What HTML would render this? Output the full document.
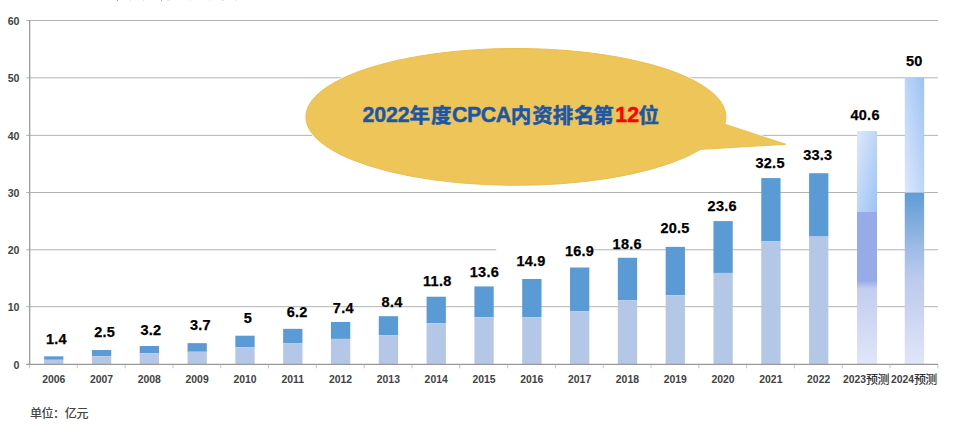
<!DOCTYPE html>
<html lang="zh-CN">
<head>
<meta charset="utf-8">
<title>营收增长图表</title>
<style>
html,body{margin:0;padding:0;background:#fff;}
body{width:957px;height:424px;overflow:hidden;position:relative;font-family:"Liberation Sans",sans-serif;}
.chart{position:absolute;left:0;top:0;width:957px;height:424px;overflow:hidden;background:#fff;}
.gfx{position:absolute;left:0;top:0;display:block;}
.chart div{position:absolute;white-space:nowrap;font-family:"Liberation Sans",sans-serif;font-weight:bold;text-align:center;}
.ax{font-size:10.6px;line-height:12px;color:#424242;}
.yl{text-align:right !important;}
.xl{font-size:10.4px;}
.dl{font-size:14.5px;line-height:16px;color:#000;letter-spacing:0.25px;-webkit-text-stroke:0.25px #000;}
.bb{font-size:21.4px;line-height:24px;color:#1b57a6;text-align:left !important;-webkit-text-stroke:0.45px #1b57a6;}
.sp{letter-spacing:-0.4px;}
.tn{letter-spacing:-0.2px;}
.red{color:#ff0000;-webkit-text-stroke-color:#ff0000;}
</style>
</head>
<body>
<div class="chart">
<svg class="gfx" width="957" height="424" viewBox="0 0 957 424">
<defs><linearGradient id="gTop24" x1="0" y1="1" x2="1" y2="0"><stop offset="0" stop-color="#dde8fa"/><stop offset="1" stop-color="#9cc2f5"/></linearGradient><linearGradient id="gTop23" x1="0" y1="0" x2="1" y2="1"><stop offset="0" stop-color="#dde8fa"/><stop offset="1" stop-color="#9cc2f5"/></linearGradient><linearGradient id="gLow23" x1="0" y1="0" x2="0" y2="1"><stop offset="0" stop-color="#98abe9"/><stop offset="0.452" stop-color="#98abe9"/><stop offset="0.505" stop-color="#c2cdf0"/><stop offset="1" stop-color="#e1e5f8"/></linearGradient><linearGradient id="gLow24" x1="0" y1="0" x2="0" y2="1"><stop offset="0" stop-color="#5f9cd6"/><stop offset="0.33" stop-color="#9fbce6"/><stop offset="0.5" stop-color="#bccaee"/><stop offset="0.63" stop-color="#c5d0f0"/><stop offset="1" stop-color="#e1e5f8"/></linearGradient></defs>
<g stroke="#b4b4b4" stroke-width="1" fill="none">
<path d="M26.2 306.70H938.0"/>
<path d="M26.2 249.75H496.2M593.7 249.75H938.0"/>
<path d="M26.2 192.50H938.0"/>
<path d="M26.2 135.40H938.0"/>
<path d="M26.2 77.80H938.0"/>
<path d="M26.2 20.50H938.0"/>
</g>
<g stroke="#c4c4c4" stroke-width="1" fill="none">
<path d="M29.50 364.4v3.9M77.31 364.4v3.9M125.12 364.4v3.9M172.93 364.4v3.9M220.74 364.4v3.9M268.55 364.4v3.9M316.36 364.4v3.9M364.17 364.4v3.9M411.98 364.4v3.9M459.79 364.4v3.9M507.60 364.4v3.9M555.41 364.4v3.9M603.22 364.4v3.9M651.03 364.4v3.9M698.84 364.4v3.9M746.65 364.4v3.9M794.46 364.4v3.9M842.27 364.4v3.9M890.08 364.4v3.9M937.89 364.4v3.9"/>
</g>
<g>
<rect x="44.11" y="356.33" width="19.3" height="3.44" fill="#5b9bd5"/>
<rect x="44.11" y="359.77" width="19.3" height="4.58" fill="#b4c7e7"/>
<rect x="91.92" y="350.02" width="19.3" height="6.30" fill="#5b9bd5"/>
<rect x="91.92" y="356.33" width="19.3" height="8.02" fill="#b4c7e7"/>
<rect x="139.72" y="346.01" width="19.3" height="7.16" fill="#5b9bd5"/>
<rect x="139.72" y="353.17" width="19.3" height="11.18" fill="#b4c7e7"/>
<rect x="187.53" y="343.15" width="19.3" height="8.60" fill="#5b9bd5"/>
<rect x="187.53" y="351.74" width="19.3" height="12.61" fill="#b4c7e7"/>
<rect x="235.34" y="335.70" width="19.3" height="11.46" fill="#5b9bd5"/>
<rect x="235.34" y="347.16" width="19.3" height="17.19" fill="#b4c7e7"/>
<rect x="283.16" y="328.82" width="19.3" height="14.61" fill="#5b9bd5"/>
<rect x="283.16" y="343.43" width="19.3" height="20.92" fill="#b4c7e7"/>
<rect x="330.96" y="321.94" width="19.3" height="16.96" fill="#5b9bd5"/>
<rect x="330.96" y="338.90" width="19.3" height="25.45" fill="#b4c7e7"/>
<rect x="378.78" y="316.21" width="19.3" height="19.14" fill="#5b9bd5"/>
<rect x="378.78" y="335.35" width="19.3" height="29.00" fill="#b4c7e7"/>
<rect x="426.58" y="296.72" width="19.3" height="26.59" fill="#5b9bd5"/>
<rect x="426.58" y="323.32" width="19.3" height="41.03" fill="#b4c7e7"/>
<rect x="474.40" y="286.41" width="19.3" height="30.95" fill="#5b9bd5"/>
<rect x="474.40" y="317.36" width="19.3" height="46.99" fill="#b4c7e7"/>
<rect x="522.21" y="278.96" width="19.3" height="38.40" fill="#5b9bd5"/>
<rect x="522.21" y="317.36" width="19.3" height="46.99" fill="#b4c7e7"/>
<rect x="570.02" y="267.50" width="19.3" height="43.84" fill="#5b9bd5"/>
<rect x="570.02" y="311.34" width="19.3" height="53.01" fill="#b4c7e7"/>
<rect x="617.83" y="257.75" width="19.3" height="42.64" fill="#5b9bd5"/>
<rect x="617.83" y="300.39" width="19.3" height="63.96" fill="#b4c7e7"/>
<rect x="665.64" y="246.86" width="19.3" height="48.43" fill="#5b9bd5"/>
<rect x="665.64" y="295.29" width="19.3" height="69.06" fill="#b4c7e7"/>
<rect x="713.45" y="221.08" width="19.3" height="51.87" fill="#5b9bd5"/>
<rect x="713.45" y="272.94" width="19.3" height="91.41" fill="#b4c7e7"/>
<rect x="761.26" y="178.09" width="19.3" height="63.04" fill="#5b9bd5"/>
<rect x="761.26" y="241.13" width="19.3" height="123.22" fill="#b4c7e7"/>
<rect x="809.07" y="173.22" width="19.3" height="63.33" fill="#5b9bd5"/>
<rect x="809.07" y="236.55" width="19.3" height="127.80" fill="#b4c7e7"/>
<rect x="857.00" y="131.10" width="20.0" height="80.81" fill="url(#gTop23)"/>
<rect x="857.00" y="211.91" width="20.0" height="152.44" fill="url(#gLow23)"/>
<rect x="904.75" y="77.51" width="19.35" height="115.19" fill="url(#gTop24)"/>
<rect x="904.75" y="192.71" width="19.35" height="171.64" fill="url(#gLow24)"/>
</g>
<path d="M26.2 364.38H938.0" stroke="#999999" stroke-width="1.24" fill="none"/>
<path d="M29.65 20V365" stroke="#9c9c9c" stroke-width="1.3" fill="none"/>
<path d="M724.71 124.17L785.6 144.3L700.75 149.36A210.0 68.4 0 1 1 724.71 124.17Z" fill="none" stroke="#fff" stroke-width="2.4" stroke-linejoin="miter"/>
<path d="M724.71 124.17L785.6 144.3L700.75 149.36A210.0 68.4 0 1 1 724.71 124.17Z" fill="#edc558" stroke="#ebbf4e" stroke-width="1" stroke-linejoin="miter"/>
<g font-family="'Liberation Sans','Noto Sans CJK SC',sans-serif" font-size="20.5" font-weight="bold" fill="#1b57a6" stroke="#1b57a6" stroke-width="0.49">
<text x="409.60 431.00" y="123.45">年度</text>
<text x="510.65 532.20 552.80 574.05 593.35" y="123.45">内资排名第</text>
<text x="638.55" y="123.45">位</text>
</g>
<g font-family="'Liberation Sans','Noto Sans CJK SC',sans-serif" font-size="12" font-weight="500" fill="#333">
<text x="866.10 877.40" y="384.10">预测</text>
<text x="914.00 925.30" y="384.10">预测</text>
</g>
<g font-family="'Liberation Sans','Noto Sans CJK SC',sans-serif" font-size="12" font-weight="500" fill="#444">
<text x="29.90 41.50 53.00 64.80 76.50" y="417.90">单位：亿元</text>
</g>
<g fill="#777"><rect x="117" y="0" width="1" height="0.6"/><rect x="161" y="0" width="1" height="0.6"/><rect x="222.3" y="0" width="1" height="0.4"/></g>
<g fill="#bbb"><rect x="130" y="0" width="1" height="0.4"/><rect x="143" y="0" width="1" height="0.4"/><rect x="167" y="0" width="3" height="0.3"/><rect x="190" y="0" width="1" height="0.4"/><rect x="209" y="0" width="1" height="0.4"/><rect x="236" y="0" width="1" height="0.4"/></g>
</svg>
<div class="ax yl" style="left:-0.50px;top:358.78px;width:20px;">0</div>
<div class="ax yl" style="left:-0.50px;top:301.08px;width:20px;">10</div>
<div class="ax yl" style="left:-0.50px;top:244.13px;width:20px;">20</div>
<div class="ax yl" style="left:-0.50px;top:186.88px;width:20px;">30</div>
<div class="ax yl" style="left:-0.50px;top:129.78px;width:20px;">40</div>
<div class="ax yl" style="left:-0.50px;top:72.18px;width:20px;">50</div>
<div class="ax yl" style="left:-0.50px;top:14.88px;width:20px;">60</div>
<div class="ax xl" style="left:33.70px;top:373.50px;width:40px;">2006</div>
<div class="ax xl" style="left:81.52px;top:373.50px;width:40px;">2007</div>
<div class="ax xl" style="left:129.33px;top:373.50px;width:40px;">2008</div>
<div class="ax xl" style="left:177.14px;top:373.50px;width:40px;">2009</div>
<div class="ax xl" style="left:224.95px;top:373.50px;width:40px;">2010</div>
<div class="ax xl" style="left:272.75px;top:373.50px;width:40px;">2011</div>
<div class="ax xl" style="left:320.56px;top:373.50px;width:40px;">2012</div>
<div class="ax xl" style="left:368.38px;top:373.50px;width:40px;">2013</div>
<div class="ax xl" style="left:416.18px;top:373.50px;width:40px;">2014</div>
<div class="ax xl" style="left:464.00px;top:373.50px;width:40px;">2015</div>
<div class="ax xl" style="left:511.80px;top:373.50px;width:40px;">2016</div>
<div class="ax xl" style="left:559.62px;top:373.50px;width:40px;">2017</div>
<div class="ax xl" style="left:607.42px;top:373.50px;width:40px;">2018</div>
<div class="ax xl" style="left:655.24px;top:373.50px;width:40px;">2019</div>
<div class="ax xl" style="left:703.04px;top:373.50px;width:40px;">2020</div>
<div class="ax xl" style="left:750.86px;top:373.50px;width:40px;">2021</div>
<div class="ax xl" style="left:798.66px;top:373.50px;width:40px;">2022</div>
<div class="ax xl" style="left:842.95px;top:373.50px;width:30px;text-align:left;">2023</div>
<div class="ax xl" style="left:890.95px;top:373.50px;width:30px;text-align:left;">2024</div>
<div class="dl" style="left:31.45px;top:330.58px;width:50px;">1.4</div>
<div class="dl" style="left:79.60px;top:324.48px;width:50px;">2.5</div>
<div class="dl" style="left:125.85px;top:321.78px;width:50px;">3.2</div>
<div class="dl" style="left:175.45px;top:316.98px;width:50px;">3.7</div>
<div class="dl" style="left:223.00px;top:309.88px;width:50px;">5</div>
<div class="dl" style="left:272.10px;top:303.98px;width:50px;">6.2</div>
<div class="dl" style="left:318.30px;top:299.58px;width:50px;">7.4</div>
<div class="dl" style="left:367.05px;top:293.98px;width:50px;">8.4</div>
<div class="dl" style="left:412.30px;top:272.78px;width:50px;">11.8</div>
<div class="dl" style="left:459.40px;top:263.78px;width:50px;">13.6</div>
<div class="dl" style="left:506.00px;top:252.78px;width:50px;">14.9</div>
<div class="dl" style="left:554.50px;top:243.18px;width:50px;">16.9</div>
<div class="dl" style="left:602.20px;top:235.78px;width:50px;">18.6</div>
<div class="dl" style="left:650.00px;top:220.18px;width:50px;">20.5</div>
<div class="dl" style="left:697.20px;top:198.38px;width:50px;">23.6</div>
<div class="dl" style="left:745.10px;top:154.88px;width:50px;">32.5</div>
<div class="dl" style="left:792.75px;top:147.28px;width:50px;">33.3</div>
<div class="dl" style="left:840.10px;top:106.58px;width:50px;">40.6</div>
<div class="dl" style="left:889.25px;top:53.38px;width:50px;">50</div>
<div class="bb tn" style="left:362.60px;top:103.28px;width:60px;">2022</div>
<div class="bb sp" style="left:451.90px;top:103.28px;width:70px;">CPCA</div>
<div class="bb red" style="left:615.30px;top:103.28px;width:30px;">12</div>
</div>
</body>
</html>
